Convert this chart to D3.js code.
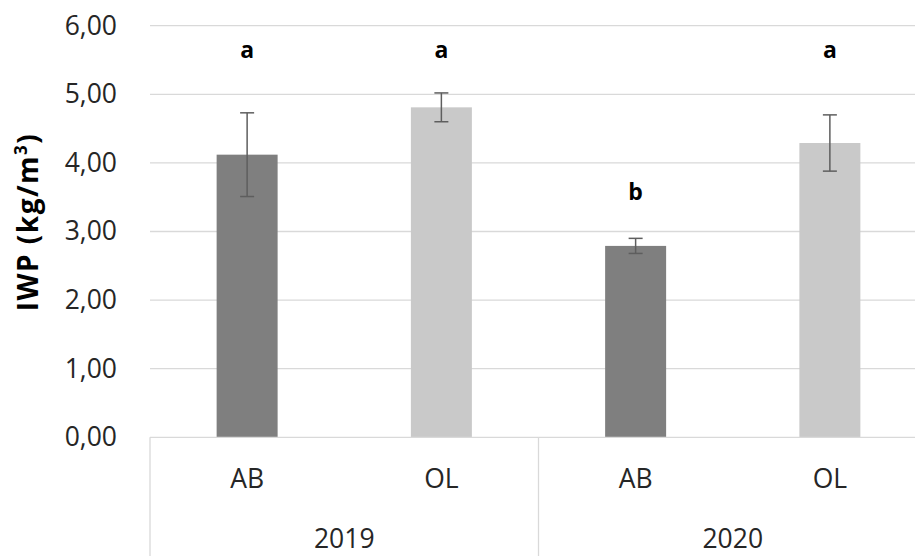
<!DOCTYPE html>
<html>
<head>
<meta charset="utf-8">
<script src="https://cdn.jsdelivr.net/npm/d3@7"></script>
<style>
  html, body { margin: 0; padding: 0; background: #fff; }
  svg { display: block; }
</style>
</head>
<body>
<svg id="chart" width="915" height="556"></svg>
<script>
// Seasons and treatments (two-level category axis)
const years = ["2019", "2020"];
const treatments = ["AB", "OL"];
// Mean IWP per year/treatment, in order 2019-AB, 2019-OL, 2020-AB, 2020-OL
const means = [4.12, 4.81, 2.79, 4.29];
// Error bar half-lengths
const errors = [0.61, 0.21, 0.11, 0.41];
// Significance letters and the level (kg/m³) where each is written
const letters = ["a", "a", "b", "a"];
const letterLevels = [5.53, 5.53, 3.46, 5.53];
// Value axis ticks
const yTicks = [0, 1, 2, 3, 4, 5, 6];

(function draw() {
  const fmt = d3.formatLocale({ decimal: ",", thousands: ".", grouping: [3], currency: ["", " €"] }).format(".2f");

  const svg = d3.select("#chart");
  const plotLeft = 150, plotRight = 927, plotTop = 25.7, plotBottom = 437.3;
  const font = "'Open Sans', 'DejaVu Sans', sans-serif";
  const labelSize = 26.5;

  const bars = years.flatMap((yr, yi) => treatments.map((t, ti) => ({
    year: yr, treat: t, i: yi * treatments.length + ti
  })));

  const x = d3.scaleBand()
    .domain(bars.map(d => d.i))
    .range([plotLeft, plotRight])
    .paddingInner(0.686)
    .paddingOuter(0.343);

  const y = d3.scaleLinear().domain([0, 6]).range([plotBottom, plotTop]);

  const colors = { AB: "#7f7f7f", OL: "#c9c9c9" };

  // Horizontal gridlines
  svg.append("g").selectAll("line")
    .data(yTicks.filter(v => v > 0))
    .join("line")
    .attr("x1", plotLeft).attr("x2", plotRight)
    .attr("y1", d => y(d)).attr("y2", d => y(d))
    .attr("stroke", "#d9d9d9").attr("stroke-width", 1.3);

  // Value axis labels
  const yAxis = svg.append("g")
    .attr("transform", `translate(${plotLeft},0)`)
    .call(d3.axisLeft(y).tickValues(yTicks).tickFormat(fmt).tickSize(0).tickPadding(33));
  yAxis.select(".domain").remove();
  yAxis.selectAll("text")
    .attr("font-family", font).attr("font-size", labelSize).attr("fill", "#262626");

  // Bars
  svg.append("g").selectAll("rect")
    .data(bars)
    .join("rect")
    .attr("x", d => x(d.i))
    .attr("width", x.bandwidth())
    .attr("y", d => y(means[d.i]))
    .attr("height", d => y(0) - y(means[d.i]))
    .attr("fill", d => colors[d.treat]);

  // Error bars
  const eb = svg.append("g").attr("stroke", "#5e5e5e").attr("stroke-width", 1.5);
  bars.forEach(d => {
    const cx = x(d.i) + x.bandwidth() / 2;
    const hi = y(means[d.i] + errors[d.i]);
    const lo = y(means[d.i] - errors[d.i]);
    eb.append("line").attr("x1", cx).attr("x2", cx).attr("y1", hi).attr("y2", lo);
    eb.append("line").attr("x1", cx - 7).attr("x2", cx + 7).attr("y1", hi).attr("y2", hi);
    eb.append("line").attr("x1", cx - 7).attr("x2", cx + 7).attr("y1", lo).attr("y2", lo);
  });

  // Significance letters
  svg.append("g").selectAll("text")
    .data(bars)
    .join("text")
    .attr("x", d => x(d.i) + x.bandwidth() / 2)
    .attr("y", d => y(letterLevels[d.i]))
    .attr("text-anchor", "middle")
    .attr("font-family", font).attr("font-size", 23).attr("font-weight", 700)
    .attr("fill", "#000")
    .text(d => letters[d.i]);

  // Category axis: baseline and year dividers
  svg.append("line")
    .attr("x1", plotLeft).attr("x2", plotRight).attr("y1", y(0)).attr("y2", y(0))
    .attr("stroke", "#d9d9d9").attr("stroke-width", 1.3);
  const groupEdges = [plotLeft, (plotLeft + plotRight) / 2, plotRight];
  svg.append("g").selectAll("line")
    .data(groupEdges)
    .join("line")
    .attr("x1", d => d).attr("x2", d => d)
    .attr("y1", y(0)).attr("y2", 556)
    .attr("stroke", "#d9d9d9").attr("stroke-width", 1.3);

  // Treatment labels
  svg.append("g").selectAll("text")
    .data(bars)
    .join("text")
    .attr("x", d => x(d.i) + x.bandwidth() / 2)
    .attr("y", 488)
    .attr("text-anchor", "middle")
    .attr("font-family", font).attr("font-size", labelSize).attr("fill", "#262626")
    .text(d => d.treat);

  // Year labels
  svg.append("g").selectAll("text")
    .data(years)
    .join("text")
    .attr("x", (d, i) => (groupEdges[i] + groupEdges[i + 1]) / 2)
    .attr("y", 548)
    .attr("text-anchor", "middle")
    .attr("font-family", font).attr("font-size", labelSize).attr("fill", "#262626")
    .text(d => d);

  // Value axis title
  const title = svg.append("text")
    .attr("transform", `translate(38,222) rotate(-90)`)
    .attr("text-anchor", "middle")
    .attr("font-family", font).attr("font-size", 28).attr("font-weight", 700)
    .attr("letter-spacing", 1.5)
    .attr("fill", "#000");
  title.append("tspan").text("IWP (kg/m");
  title.append("tspan").attr("font-size", 17).attr("dy", -11).text("3");
  title.append("tspan").attr("dy", 11).text(")");
})();
</script>
</body>
</html>
